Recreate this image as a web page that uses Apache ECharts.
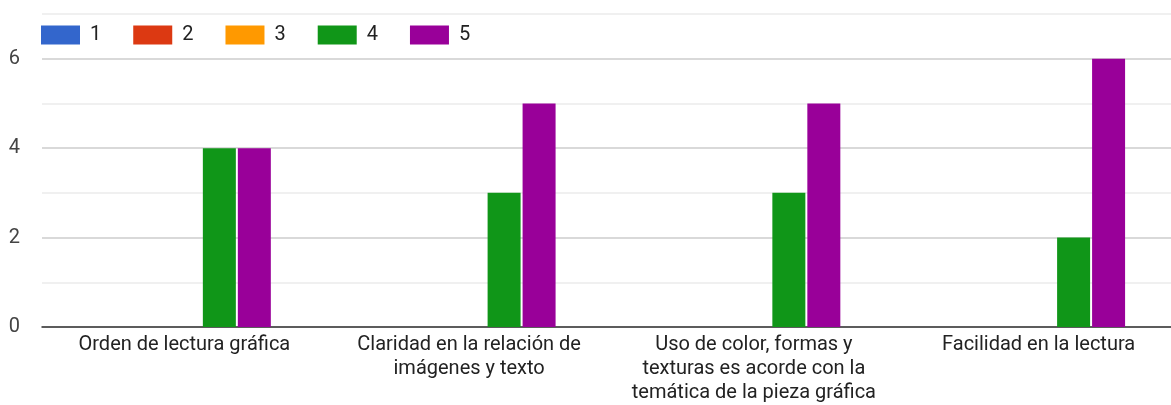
<!DOCTYPE html>
<html><head><meta charset="utf-8">
<script src="https://cdn.jsdelivr.net/npm/echarts@6/dist/echarts.min.js"></script>
<style>html,body{margin:0;padding:0;background:#fff}#c{width:1171px;height:405px}</style>
</head><body><div id="c"></div>
<script>
var categories = ['Orden de lectura gráfica', 'Claridad en la relación de\nimágenes y texto', 'Uso de color, formas y\ntexturas es acorde con la\ntemática de la pieza gráfica', 'Facilidad en la lectura'];
var seriesNames = ['1', '2', '3', '4', '5'];
var s1 = [0, 0, 0, 0];
var s2 = [0, 0, 0, 0];
var s3 = [0, 0, 0, 0];
var s4 = [4, 3, 3, 2];
var s5 = [4, 5, 5, 6];
var yTicks = [0, 2, 4, 6];
var colors = ['#3366cc', '#dc3912', '#ff9900', '#109618', '#990099'];
var values = [s1, s2, s3, s4, s5];

var chart = echarts.init(document.getElementById('c'), null, {renderer: 'canvas'});
chart.setOption({
  animation: false,
  color: colors,
  textStyle: {fontFamily: 'Roboto, Arial, sans-serif'},
  legend: {
    left: 41, top: 25, padding: 0, itemWidth: 39, itemHeight: 19, itemGap: 32,
    icon: 'rect',
    textStyle: {fontSize: 20, color: '#222', padding: [0, 0, 0, 5], fontFamily: 'Roboto, Arial, sans-serif'},
    data: seriesNames
  },
  grid: {left: 42, top: 14, width: 1139, height: 313, containLabel: false, outerBoundsMode: 'none'},
  xAxis: {
    type: 'category', data: categories,
    axisLine: {lineStyle: {color: '#333', width: 1.5}},
    axisTick: {show: false},
    axisLabel: {fontSize: 20, color: '#222', lineHeight: 24, margin: 6, interval: 0, fontFamily: 'Roboto, Arial, sans-serif'}
  },
  yAxis: {
    type: 'value', min: 0, max: 7, interval: 1,
    axisLine: {show: false}, axisTick: {show: false},
    axisLabel: {fontSize: 20, color: '#444', margin: 22, fontFamily: 'Roboto, Arial, sans-serif',
      formatter: function (v) { return yTicks.indexOf(v) >= 0 ? String(v) : ''; }},
    splitLine: {lineStyle: {color: ['#cccccc', '#ebebeb'], width: 1.5}}
  },
  series: seriesNames.map(function (n, i) {
    return {name: n, type: 'bar', data: values[i], barWidth: 33, barGap: '6%'};
  })
});
</script></body></html>
